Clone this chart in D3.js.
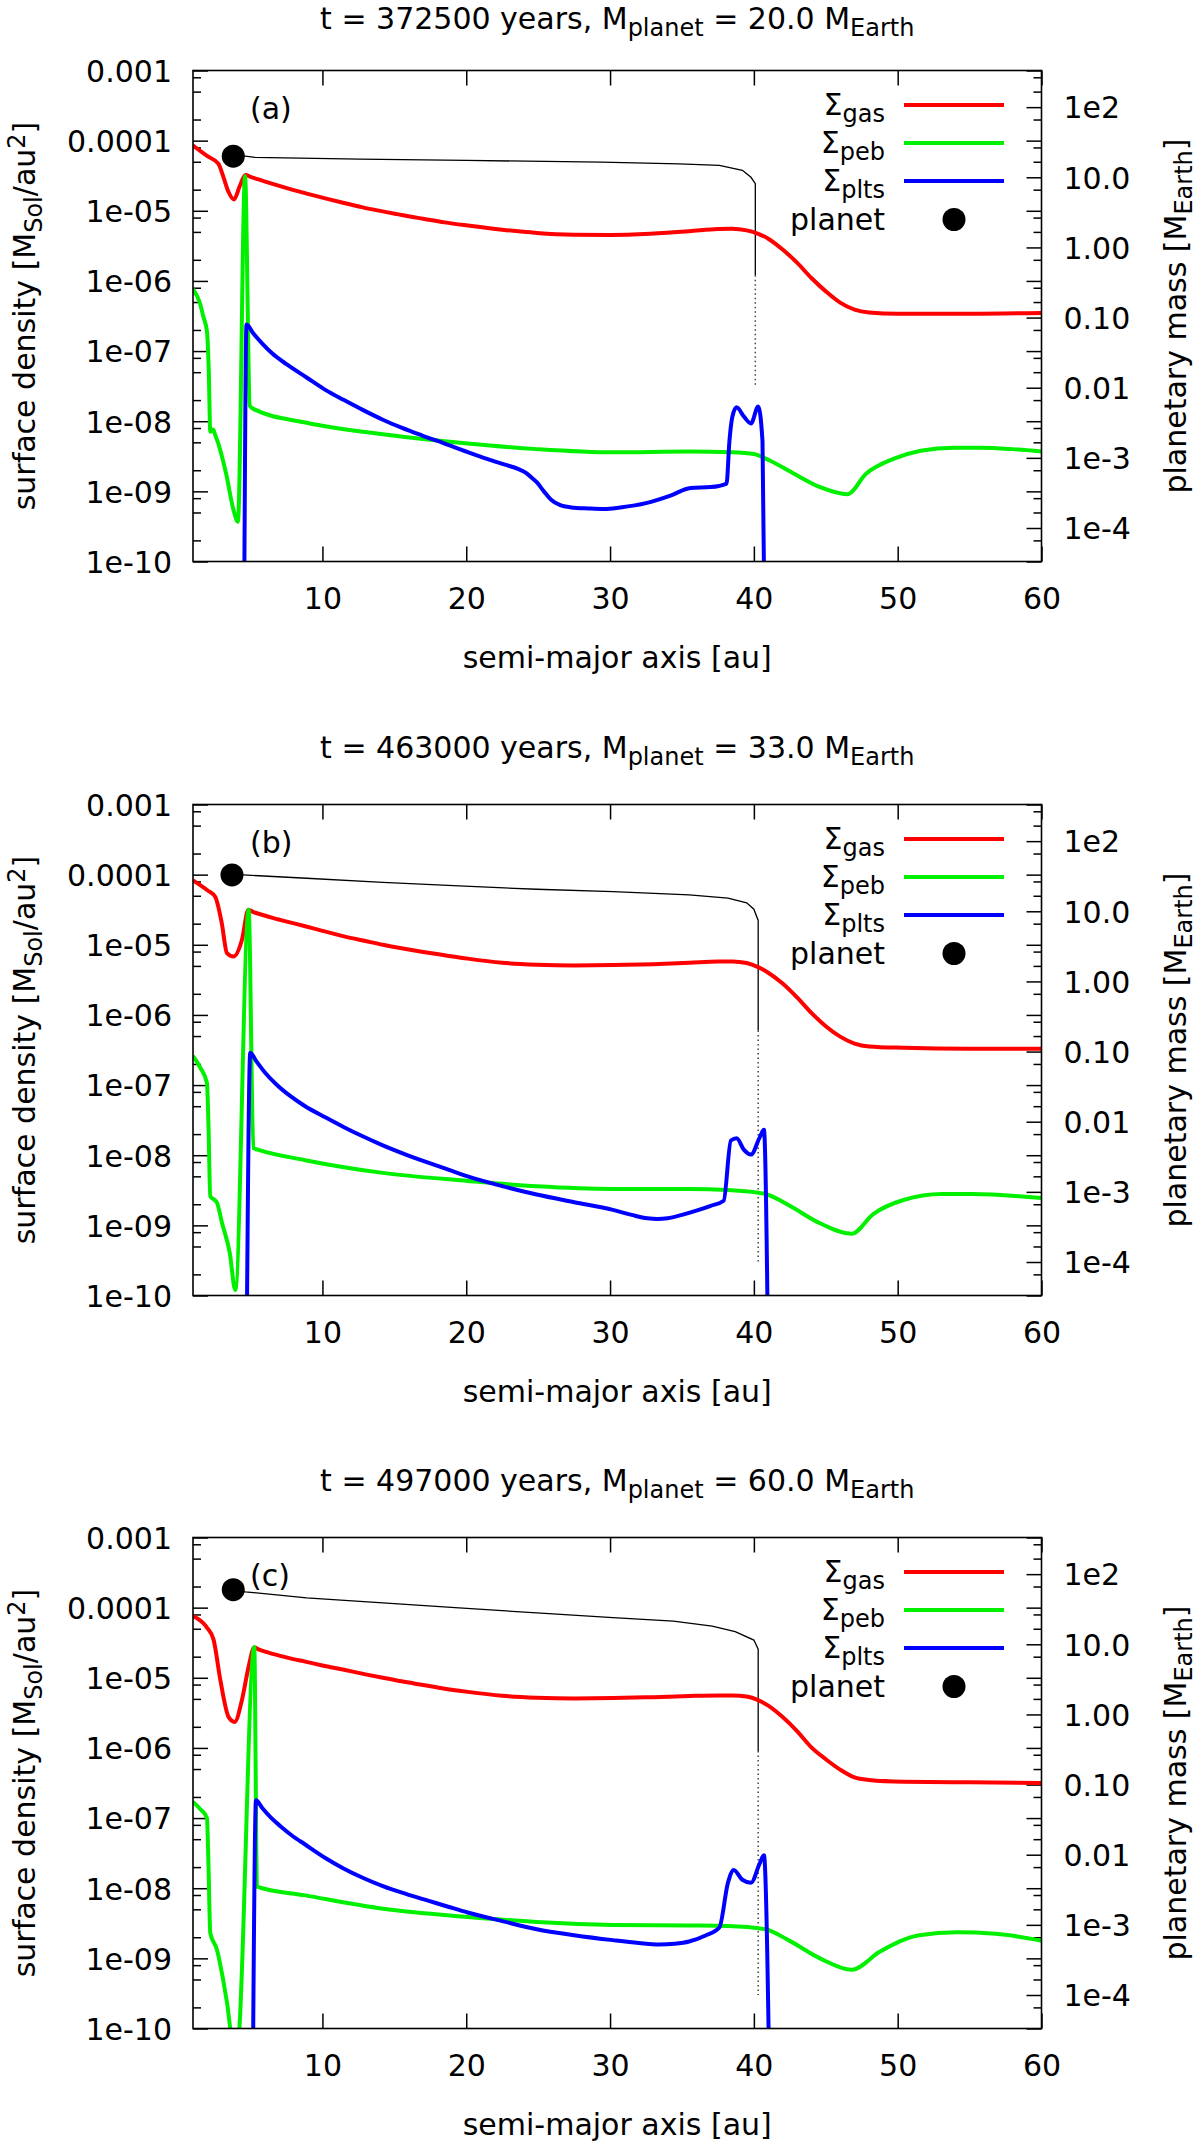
<!DOCTYPE html>
<html><head><meta charset="utf-8">
<script src="https://cdn.jsdelivr.net/npm/d3@7"></script>
<style>body{margin:0;background:#fff}svg{display:block}</style>
</head><body>
<svg id="chart" width="1200" height="2144"></svg>
<script>
// ---------------- DATA ----------------
const panelLabels = ["(a)", "(b)", "(c)"];
const timesYears  = ["372500", "463000", "497000"];
const planetMassText = ["20.0", "33.0", "60.0"];
const planetA = [3.8, 3.71, 3.8];        // au
const planetM = [20.0, 33.0, 60.0];      // M_Earth

const xTicks = [10, 20, 30, 40, 50, 60];
const leftTicks = [1e-10, 1e-9, 1e-8, 1e-7, 1e-6, 1e-5, 1e-4, 1e-3];
const leftTickLabels = ["1e-10", "1e-09", "1e-08", "1e-07", "1e-06", "1e-05", "0.0001", "0.001"];
const leftMinorMult = [2, 5, 8];
const rightTicks = [1e-4, 1e-3, 0.01, 0.1, 1, 10, 100];
const rightTickLabels = ["1e-4", "1e-3", "0.01", "0.10", "1.00", "10.0", "1e2"];
const MEARTH_PER_MSOL = 333000;

// Panel (a)
const gasAx = [1.0,2.0,2.76,3.1,3.45,3.85,4.25,4.65,5.0,5.5,6.2,7,8,8.9,10.2,11.5,12.8,14.2,15.5,17,18.5,20.1,22.5,24.9,27.5,30,32.8,35.5,37.5,38.5,39.5,40.3,41,42,43,44,45,46,47,48,50,55,60];
const gasAy = [8.5e-5,6.0e-5,4.7e-5,3.1e-5,1.9e-5,1.45e-5,2.24e-5,3.24e-5,3.05e-5,2.82e-5,2.54e-5,2.26e-5,1.97e-5,1.76e-5,1.5e-5,1.29e-5,1.12e-5,9.8e-6,8.7e-6,7.7e-6,6.84e-6,6.17e-6,5.37e-6,4.84e-6,4.57e-6,4.52e-6,4.7e-6,5.1e-6,5.5e-6,5.55e-6,5.25e-6,4.7e-6,4.0e-6,2.8e-6,1.82e-6,1.1e-6,7.1e-7,4.9e-7,3.9e-7,3.55e-7,3.4e-7,3.4e-7,3.5e-7];
const pebAx = [1.0,1.5,1.7,1.97,2.1,2.2,2.4,2.55,2.76,3.3,3.82,4.12,4.62,4.95,5.2,8.9,14.2,20.1,24.9,30.2,35.5,38.4,40,41.1,42.8,44.6,46.5,47.8,49.7,51.6,53.9,55.8,58,60];
const pebAy = [7.6e-7,4.7e-7,3.2e-7,1.9e-7,5e-8,7.1e-9,7.6e-9,6.3e-9,4.8e-9,1.8e-9,5.4e-10,3.7e-10,3.1e-5,1.66e-8,1.5e-8,9.5e-9,6.5e-9,4.8e-9,4.0e-9,3.6e-9,3.7e-9,3.6e-9,3.4e-9,2.75e-9,1.78e-9,1.15e-9,9.1e-10,1.78e-9,2.9e-9,3.8e-9,4.2e-9,4.2e-9,4.0e-9,3.7e-9];
const pltAx = [4.55,4.72,5.2,5.8,6.5,7.5,8.9,10.2,11.5,12.8,14.2,15.5,16.9,18.5,20.1,21.5,22.7,23.6,24.1,24.5,24.9,25.4,25.9,26.5,27.3,28.5,29.6,30.7,32.5,34.2,35.6,37.0,38.1,38.3,38.5,38.8,39.3,39.8,40.3,40.6,40.75];
const pltAy = [1e-11,2.4e-7,1.78e-7,1.29e-7,9.3e-8,6.5e-8,4.2e-8,2.8e-8,2.0e-8,1.45e-8,1.05e-8,8.1e-9,6.3e-9,4.8e-9,3.63e-9,2.88e-9,2.4e-9,2.09e-9,1.86e-9,1.6e-9,1.35e-9,1.0e-9,7.6e-10,6.4e-10,5.9e-10,5.7e-10,5.6e-10,5.9e-10,6.8e-10,8.7e-10,1.12e-9,1.15e-9,1.29e-9,5.2e-9,1.15e-8,1.58e-8,1.17e-8,9.3e-9,1.62e-8,5.2e-9,1e-11];
const trkAx = [3.8,4.64,5.3,12.6,20,29.4,34.8,37.6,39.2,39.8,40.1,40.1];
const trkAm = [20,20,19.2,18.2,17.4,16.4,15.5,14.8,12.6,10,8.1,0.4];
const dotAx = [40.1,40.1];
const dotAm = [0.4,0.01];

// Panel (b)
const gasBx = [1.0,2.0,2.55,3.0,3.36,3.82,4.4,4.85,5.2,5.8,6.6,7.6,8.8,10,11.5,13,14.2,15.5,17,18.5,20.1,22.5,24.9,27.5,30.2,33,35.5,37.5,38.5,39.5,40.3,41,42,43,44,45,46,47,48,50.4,55,60];
const gasBy = [8.3e-5,6.0e-5,4.8e-5,2.04e-5,7.6e-6,6.8e-6,1.17e-5,3.16e-5,2.93e-5,2.68e-5,2.4e-5,2.12e-5,1.84e-5,1.58e-5,1.32e-5,1.13e-5,1.0e-5,8.9e-6,7.9e-6,7.1e-6,6.35e-6,5.55e-6,5.2e-6,5.07e-6,5.13e-6,5.3e-6,5.55e-6,5.8e-6,5.8e-6,5.5e-6,4.8e-6,4.0e-6,2.8e-6,1.78e-6,1.07e-6,6.9e-7,4.9e-7,3.9e-7,3.55e-7,3.4e-7,3.3e-7,3.3e-7];
const pebBx = [1.0,1.5,1.97,2.08,2.2,2.5,2.67,3.0,3.56,3.94,4.87,5.2,5.5,8.8,14.2,20.1,24.9,30.2,35.5,38.2,40.8,42.4,44.6,46.8,48.3,50.4,53.1,55.2,60];
const pebBy = [2.6e-7,1.78e-7,1.07e-7,2.5e-8,2.6e-9,2.3e-9,2.1e-9,1.12e-9,4.0e-10,1.2e-10,3.16e-5,1.26e-8,1.2e-8,8.5e-9,5.6e-9,4.3e-9,3.6e-9,3.3e-9,3.3e-9,3.2e-9,2.8e-9,1.95e-9,1.07e-9,7.6e-10,1.45e-9,2.3e-9,2.8e-9,2.8e-9,2.45e-9];
const pltBx = [4.72,4.98,5.4,6.0,6.8,7.8,8.8,10.2,11.5,12.8,14.2,15.8,17.4,18.8,20.1,22.5,24.9,27.5,30.2,31.5,32.6,33.3,34,35,36,37,37.9,38.4,38.8,39.3,39.8,40.4,40.7,41.0];
const pltBy = [1e-11,2.9e-7,2.19e-7,1.51e-7,1.02e-7,6.9e-8,5.0e-8,3.47e-8,2.51e-8,1.86e-8,1.38e-8,1.02e-8,7.76e-9,6.17e-9,5.0e-9,3.63e-9,2.75e-9,2.14e-9,1.66e-9,1.41e-9,1.26e-9,1.23e-9,1.26e-9,1.41e-9,1.62e-9,1.9e-9,2.24e-9,1.62e-8,1.74e-8,1.2e-8,1.02e-8,1.78e-8,2.3e-8,1e-11];
const trkBx = [3.71,4.5,8.9,14.2,19.5,24.9,30.2,35.5,38.2,39.5,40.0,40.3,40.3];
const trkBm = [33,33,29.6,25.9,23,20.6,19.1,17.1,15.4,13.2,10.7,7.4,0.2];
const dotBx = [40.3,40.3];
const dotBm = [0.2,1e-4];

// Panel (c)
const gasCx = [1.0,1.97,2.43,2.9,3.48,3.9,4.4,4.87,5.26,5.6,6.2,7,7.9,8.8,10,11.5,13,14.2,15.5,17,18.5,20.1,22.5,24.9,27.5,30.2,33,35.5,37.5,38.5,39.5,40.3,41,42,43,44,45,46,47,48,50.4,55,60];
const gasCy = [7.6e-5,5.2e-5,3.5e-5,9.3e-6,2.75e-6,2.35e-6,4.8e-6,1.45e-5,2.7e-5,2.52e-5,2.3e-5,2.07e-5,1.86e-5,1.7e-5,1.5e-5,1.3e-5,1.12e-5,1.0e-5,8.9e-6,7.9e-6,7.0e-6,6.3e-6,5.55e-6,5.2e-6,5.07e-6,5.13e-6,5.3e-6,5.5e-6,5.6e-6,5.6e-6,5.4e-6,4.8e-6,4.0e-6,2.75e-6,1.74e-6,1.02e-6,6.9e-7,4.9e-7,3.8e-7,3.5e-7,3.3e-7,3.24e-7,3.16e-7];
const pebCx = [1.0,1.5,1.97,2.08,2.2,2.67,3.0,3.6,3.9,4.22,5.26,5.45,8.8,14.2,20.1,24.9,30.2,35.5,38.2,40.8,42.4,44.6,46.8,48.8,51.5,54.1,56.8,60];
const pebCy = [1.7e-7,1.35e-7,1.0e-7,2.0e-8,2.3e-9,1.32e-9,6.3e-10,9.5e-11,1.6e-11,9.5e-11,2.75e-5,1.05e-8,7.9e-9,5.1e-9,3.9e-9,3.3e-9,3.0e-9,2.95e-9,2.9e-9,2.6e-9,1.82e-9,1.0e-9,6.9e-10,1.26e-9,2.14e-9,2.35e-9,2.24e-9,1.78e-9];
const pltCx = [5.15,5.38,5.8,6.4,7.1,7.9,8.8,10.2,11.5,12.8,14.2,15.8,17.4,18.8,20.1,22.5,24.9,27.5,30.2,32,33.4,34.5,35.5,36.6,37.6,38.2,38.6,39.2,39.8,40.4,40.7,41.1];
const pltCy = [1e-11,1.8e-7,1.4e-7,1.02e-7,7.6e-8,5.6e-8,4.2e-8,2.7e-8,1.9e-8,1.41e-8,1.07e-8,8.3e-9,6.6e-9,5.4e-9,4.5e-9,3.4e-9,2.6e-9,2.14e-9,1.82e-9,1.66e-9,1.58e-9,1.62e-9,1.74e-9,2.1e-9,2.75e-9,1.2e-8,1.82e-8,1.32e-8,1.2e-8,2.24e-8,2.95e-8,1e-11];
const trkCx = [3.8,4.64,8.9,14.2,19.5,24.9,30.2,34.4,37.1,38.7,40.0,40.3,40.3];
const trkCm = [59,56,46,39,33,28,24,21.4,18.2,15.1,11.5,8.5,0.3];
const dotCx = [40.3,40.3];
const dotCm = [0.3,1e-4];

const legendNames = ["gas", "peb", "plts"];
const seriesColors = ["#ff0000", "#00f000", "#0000ff"];

// ---------------- LAYOUT ----------------
const FONT = "DejaVu Sans";
const LEFT = 193, RIGHT = 1041.5, PH = 491;
const panelTops = [70.5, 804.5, 1537.5];
const panels = [
  {gas:[gasAx,gasAy], peb:[pebAx,pebAy], plt:[pltAx,pltAy], trk:[trkAx,trkAm], dot:[dotAx,dotAm]},
  {gas:[gasBx,gasBy], peb:[pebBx,pebBy], plt:[pltBx,pltBy], trk:[trkBx,trkBm], dot:[dotBx,dotBm]},
  {gas:[gasCx,gasCy], peb:[pebCx,pebCy], plt:[pltCx,pltCy], trk:[trkCx,trkCm], dot:[dotCx,dotCm]}
];

const svg = d3.select("#chart").style("font-family", FONT);
const x = d3.scaleLinear().domain([1, 60]).range([LEFT, RIGHT]);
const zip = (xs, ys) => xs.map((v, i) => [v, ys[i]]);

function styleAxis(g) {
  g.select(".domain").remove();
  g.selectAll(".tick line").attr("stroke", "#000").attr("stroke-width", 1.5);
  g.selectAll(".tick text").attr("fill", "#000").attr("font-size", 30).attr("font-family", FONT);
}

panels.forEach((p, k) => {
  const top = panelTops[k], bot = top + PH;
  const y = d3.scaleLog().domain([1e-10, 1e-3]).range([bot, top]);
  const y2 = d3.scaleLog().domain([1e-10 * MEARTH_PER_MSOL, 1e-3 * MEARTH_PER_MSOL]).range([bot, top]);
  const g = svg.append("g");

  const clipId = "clip" + k;
  svg.append("clipPath").attr("id", clipId).append("rect")
    .attr("x", LEFT).attr("y", top).attr("width", RIGHT - LEFT).attr("height", PH);

  const minors = [];
  for (let e = -10; e < -3; e++) leftMinorMult.forEach(m => minors.push(m * Math.pow(10, e)));

  // bottom & top axes
  g.append("g").attr("transform", `translate(0,${bot})`)
    .call(d3.axisBottom(x).tickValues(xTicks).tickFormat(d3.format("d")).tickSizeInner(-15).tickSizeOuter(0).tickPadding(26))
    .call(styleAxis);
  g.append("g").attr("transform", `translate(0,${top})`)
    .call(d3.axisTop(x).tickValues(xTicks).tickFormat("").tickSizeInner(-15).tickSizeOuter(0))
    .call(styleAxis);
  // left axis
  g.append("g").attr("transform", `translate(${LEFT},0)`)
    .call(d3.axisLeft(y).tickValues(leftTicks).tickFormat((d, i) => leftTickLabels[i]).tickSizeInner(-15).tickSizeOuter(0).tickPadding(21))
    .call(styleAxis).call(a => a.selectAll(".tick text").attr("dy", "0.36em"));
  g.append("g").attr("transform", `translate(${LEFT},0)`)
    .call(d3.axisLeft(y).tickValues(minors).tickFormat("").tickSizeInner(-8).tickSizeOuter(0))
    .call(styleAxis);
  // right axis: mirrored left ticks + y2 ticks
  g.append("g").attr("transform", `translate(${RIGHT},0)`)
    .call(d3.axisRight(y).tickValues(leftTicks).tickFormat("").tickSizeInner(-15).tickSizeOuter(0))
    .call(styleAxis);
  g.append("g").attr("transform", `translate(${RIGHT},0)`)
    .call(d3.axisRight(y).tickValues(minors).tickFormat("").tickSizeInner(-8).tickSizeOuter(0))
    .call(styleAxis);
  g.append("g").attr("transform", `translate(${RIGHT},0)`)
    .call(d3.axisRight(y2).tickValues(rightTicks).tickFormat((d, i) => rightTickLabels[i]).tickSizeInner(-15).tickSizeOuter(0).tickPadding(22))
    .call(styleAxis).call(a => a.selectAll(".tick text").attr("dy", "0.36em"));

  // curves
  const plot = g.append("g").attr("clip-path", `url(#${clipId})`);
  const line = d3.line().x(d => x(d[0])).y(d => y(d[1])).curve(d3.curveMonotoneX);
  const line2 = d3.line().x(d => x(d[0])).y(d => y2(d[1]));

  plot.append("path").attr("d", line2(zip(p.trk[0], p.trk[1])))
    .attr("fill", "none").attr("stroke", "#000").attr("stroke-width", 1.3);
  plot.append("path").attr("d", line2(zip(p.dot[0], p.dot[1])))
    .attr("fill", "none").attr("stroke", "#444").attr("stroke-width", 1.5).attr("stroke-dasharray", "1.5 3");

  [p.gas, p.peb, p.plt].forEach((s, i) => {
    plot.append("path").attr("d", line(zip(s[0], s[1])))
      .attr("fill", "none").attr("stroke", seriesColors[i]).attr("stroke-width", 4)
      .attr("stroke-linejoin", "round");
  });

  // planet
  g.append("circle").attr("cx", x(planetA[k])).attr("cy", y2(planetM[k])).attr("r", 11.5).attr("fill", "#000");

  // frame
  g.append("rect").attr("x", LEFT).attr("y", top).attr("width", RIGHT - LEFT).attr("height", PH)
    .attr("fill", "none").attr("stroke", "#000").attr("stroke-width", 1.6);

  // panel label
  g.append("text").attr("x", 250).attr("y", top + 48).attr("font-size", 30).text(panelLabels[k]);

  // title
  const cx = (LEFT + RIGHT) / 2;
  const t = g.append("text").attr("x", cx).attr("y", Math.max(top - 47, 29)).attr("font-size", 30).attr("text-anchor", "middle");
  t.append("tspan").text(`t = ${timesYears[k]} years, M`);
  t.append("tspan").attr("font-size", 24).attr("dy", 7).text("planet");
  t.append("tspan").attr("dy", -7).text(` = ${planetMassText[k]} M`);
  t.append("tspan").attr("font-size", 24).attr("dy", 7).text("Earth");

  // x label
  g.append("text").attr("x", cx).attr("y", bot + 106).attr("font-size", 30).attr("text-anchor", "middle")
    .text("semi-major axis [au]");

  // left y label
  const cy = top + PH / 2;
  const yl = g.append("text").attr("transform", `translate(34.5,${cy}) rotate(-90)`)
    .attr("font-size", 30).attr("text-anchor", "middle");
  yl.append("tspan").text("surface density [M");
  yl.append("tspan").attr("font-size", 24).attr("dy", 7).text("Sol");
  yl.append("tspan").attr("dy", -7).text("/au");
  yl.append("tspan").attr("font-size", 24).attr("dy", -10).text("2");
  yl.append("tspan").attr("dy", 10).text("]");

  // right y label
  const yr = g.append("text").attr("transform", `translate(1186,${cy}) rotate(-90)`)
    .attr("font-size", 30).attr("text-anchor", "middle");
  yr.append("tspan").text("planetary mass [M");
  yr.append("tspan").attr("font-size", 24).attr("dy", 6).text("Earth");
  yr.append("tspan").attr("dy", -6).text("]");

  // legend
  const legOff = [34.5, 72.5, 110.5];
  legendNames.forEach((nm, i) => {
    const ly = top + legOff[i];
    const lt = g.append("text").attr("x", 885).attr("y", ly + 10).attr("font-size", 30).attr("text-anchor", "end");
    lt.append("tspan").text("Σ");
    lt.append("tspan").attr("font-size", 24).attr("dy", 7).text(nm);
    g.append("line").attr("x1", 904).attr("x2", 1004).attr("y1", ly).attr("y2", ly)
      .attr("stroke", seriesColors[i]).attr("stroke-width", 4);
  });
  g.append("text").attr("x", 885).attr("y", top + 149 + 10).attr("font-size", 30).attr("text-anchor", "end").text("planet");
  g.append("circle").attr("cx", 954).attr("cy", top + 149).attr("r", 11.5).attr("fill", "#000");
});
</script>
</body></html>
